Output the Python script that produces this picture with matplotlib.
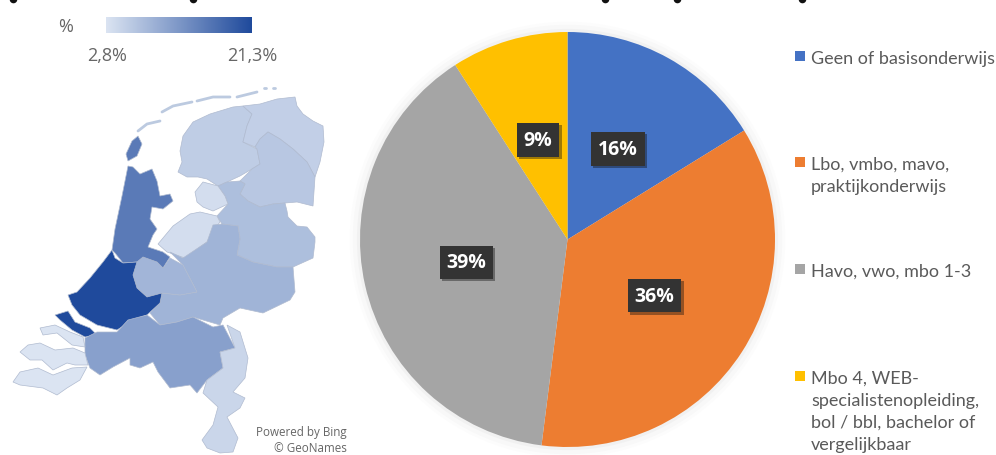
import numpy as np
import matplotlib
matplotlib.use("Agg")
import matplotlib.pyplot as plt
import matplotlib.patheffects as pe
from matplotlib.colors import LinearSegmentedColormap, Normalize
from matplotlib.patches import Polygon, Circle, Rectangle

# pie data
categories = ["Geen of basisonderwijs",
              "Lbo, vmbo, mavo,\npraktijkonderwijs",
              "Havo, vwo, mbo 1-3",
              "Mbo 4, WEB-\nspecialistenopleiding,\nbol / bbl, bachelor of\nvergelijkbaar"]
shares = [16.2, 35.8, 38.9, 9.1]
pie_colors = ["#4472c4", "#ed7d31", "#a5a5a5", "#ffc000"]
legend_y = [57, 163, 270, 377]

# map data, percentage per province
scale_min = 2.8
scale_max = 21.3
province_values = {
    "Friesland": 5.6, "Groningen": 5.3, "Drenthe": 6.3, "Overijssel": 7.3,
    "Flevoland": 3.6, "Gelderland": 8.6, "Utrecht": 8.4, "Noord-Holland": 15.5,
    "Zuid-Holland": 21.3, "Zeeland": 2.8, "Noord-Brabant": 11.0, "Limburg": 4.5,
}

# outlines in picture pixels
friesland = [(180,152),(183,137),(193,123),(210,115),(233,108),(243,107),(252,115),(247,127),(243,143),(257,150),(260,165),(252,170),(240,177),(227,183),(218,187),(207,180),(198,178),(187,178),(178,173),(182,163)]
groningen = [(243,107),(260,105),(277,100),(295,98),(297,107),(303,115),(313,122),(323,127),(324,143),(320,163),(315,178),(307,163),(293,150),(280,140),(268,133),(260,140),(255,148),(243,143),(247,127),(252,115)]
drenthe = [(268,133),(280,140),(293,150),(307,163),(315,178),(313,207),(297,203),(285,204),(273,205),(260,208),(248,202),(240,195),(245,185),(240,182),(252,170),(260,165),(257,150),(255,148),(260,140)]
overijssel = [(218,187),(227,183),(240,182),(245,185),(240,195),(248,202),(260,208),(273,205),(285,204),(287,212),(288,218),(297,227),(307,228),(315,238),(315,243),(313,259),(293,268),(277,268),(253,263),(237,256),(240,240),(238,227),(222,225),(217,217),(228,205),(225,197)]
flevo_north = [(203,183),(218,187),(225,197),(228,205),(213,212),(203,208),(197,203),(195,193)]
flevo_south = [(158,245),(173,227),(190,215),(200,213),(217,217),(220,223),(213,232),(207,243),(185,259),(167,253)]
noord_holland = [(128,167),(133,168),(140,175),(152,170),(157,182),(160,197),(170,195),(173,202),(163,210),(152,208),(150,220),(157,230),(153,236),(148,248),(163,253),(170,258),(163,269),(157,263),(143,258),(137,263),(123,264),(115,254),(112,251),(115,230),(122,197)]
texel = [(138,137),(142,145),(137,157),(128,162),(126,155),(132,142)]
zuid_holland = [(112,251),(115,259),(123,264),(137,263),(133,276),(137,289),(147,298),(162,294),(160,304),(147,316),(133,321),(117,331),(97,326),(80,316),(72,306),(68,296),(77,293),(90,279),(103,263)]
goeree = [(55,316),(68,312),(75,323),(90,329),(97,336),(85,338),(72,331),(60,321)]
utrecht = [(137,259),(145,256),(160,263),(163,269),(170,259),(183,266),(197,293),(180,296),(162,294),(147,298),(137,289),(133,276)]
gelderland = [(213,226),(222,225),(238,227),(240,240),(237,256),(253,263),(277,268),(293,268),(295,293),(290,301),(263,314),(240,309),(223,319),(220,326),(193,318),(177,323),(160,326),(150,314),(160,304),(162,294),(180,296),(197,293),(183,266),(173,256),(170,253),(183,259),(207,243)]
brabant = [(85,339),(97,333),(117,333),(128,321),(147,316),(160,326),(177,323),(193,318),(213,328),(223,326),(235,349),(220,353),(223,369),(207,381),(197,394),(190,386),(170,389),(158,373),(153,363),(140,369),(130,366),(130,359),(113,368),(100,376),(90,369),(85,356)]
limburg = [(227,326),(240,333),(248,359),(245,379),(233,393),(245,399),(240,409),(227,418),(238,439),(233,453),(220,454),(207,449),(202,441),(213,426),(218,408),(203,394),(207,381),(223,369),(220,353),(235,349)]
schouwen = [(40,329),(55,326),(70,333),(83,338),(85,348),(72,346),(57,334),(43,336)]
walcheren = [(20,353),(28,346),(40,344),(55,351),(73,349),(85,354),(88,366),(75,366),(67,364),(53,371),(42,361),(30,361)]
vlaanderen = [(13,383),(20,373),(38,369),(53,376),(72,369),(87,368),(80,381),(67,389),(57,396),(43,389),(20,386)]
wadden = [[(138,132),(147,125),(160,122)], [(162,113),(173,107),(192,103)],
          [(197,102),(213,98),(230,98)], [(237,98),(257,93)],
          [(264,89),(266,89)], [(273,89),(275,89)]]

provinces = [("Friesland", friesland), ("Groningen", groningen), ("Drenthe", drenthe),
             ("Overijssel", overijssel), ("Flevoland", flevo_north), ("Flevoland", flevo_south),
             ("Gelderland", gelderland), ("Utrecht", utrecht), ("Noord-Holland", noord_holland),
             ("Noord-Holland", texel), ("Zuid-Holland", zuid_holland), ("Zuid-Holland", goeree),
             ("Noord-Brabant", brabant), ("Limburg", limburg), ("Zeeland", schouwen),
             ("Zeeland", walcheren), ("Zeeland", vlaanderen)]

# the title is cut off in the reference and cannot be read, only these specks remain
title_specks_x = [13, 193, 605, 677, 802]

plt.rcParams["font.family"] = ["Open Sans", "DejaVu Sans"]
W, H = 996, 456
fig = plt.figure(figsize=(W / 100, H / 100), dpi=100)

# full canvas in pixels for map, texts and legend
ax = fig.add_axes([0, 0, 1, 1])
ax.set_xlim(0, W)
ax.set_ylim(H, 0)
ax.axis("off")

ax.scatter(title_specks_x, [0] * len(title_specks_x), s=30, color="#111111", marker="o", linewidths=0)

cmap = LinearSegmentedColormap.from_list("nl", ["#dbe4f2", "#1f4a9c"])
norm = Normalize(scale_min, scale_max)

for name, outline in provinces:
    ax.add_patch(Polygon(outline, closed=True, facecolor=cmap(norm(province_values[name])),
                         edgecolor="#b0bbd0", linewidth=0.5))
for island in wadden:
    xs, ys = zip(*island)
    ax.plot(xs, ys, color="#bccae0", lw=2, solid_capstyle="round")

# colour scale
cax = fig.add_axes([106 / W, 1 - 34 / H, 146 / W, 16 / H])
cax.imshow(np.linspace(scale_min, scale_max, 256).reshape(1, -1), aspect="auto", cmap=cmap, norm=norm)
cax.axis("off")
ax.text(66, 27, "%", color="#666666", fontsize=13, ha="center", va="center")
ax.text(107, 56, "2,8%", color="#666666", fontsize=13, ha="center", va="center")
ax.text(252, 56, "21,3%", color="#666666", fontsize=13, ha="center", va="center")

ax.text(347, 433, "Powered by Bing", color="#666666", fontsize=8.4, ha="right", va="center")
ax.text(347, 449, "© GeoNames", color="#666666", fontsize=8.4, ha="right", va="center")

# legend
for y, label, col in zip(legend_y, categories, pie_colors):
    ax.add_patch(Rectangle((795, y - 5), 10, 10, facecolor=col, edgecolor="none"))
    ax.text(811, y - 6, label, color="#5a5a5a", fontsize=13, family="Lato", ha="left", va="top",
            linespacing=1.45)

# pie
cx, cy, r = 567.5, 240.5, 207.5
pad = 1.02
pie_ax = fig.add_axes([(cx - r * pad) / W, 1 - (cy + r * pad) / H, 2 * r * pad / W, 2 * r * pad / H])
pie_ax.set_xlim(-pad, pad)
pie_ax.set_ylim(-pad, pad)
pie_ax.set_aspect("equal")
pie_ax.patch.set_alpha(0)
for grow, alpha in [(1.05, 0.02), (1.035, 0.03), (1.015, 0.05)]:
    pie_ax.add_patch(Circle((0, 0), grow, facecolor="#808080", alpha=alpha, edgecolor="none", clip_on=False))
wedges, _, autotexts = pie_ax.pie(shares, colors=pie_colors, startangle=90, counterclock=False,
                                  radius=1, autopct="%.0f%%", pctdistance=0.5, frame=False)
pie_ax.set_xlim(-pad, pad)
pie_ax.set_ylim(-pad, pad)
for t in autotexts:
    t.set_color("white")
    t.set_fontsize(14)
    t.set_fontweight("bold")
    t.set_bbox(dict(boxstyle="square,pad=0.35", facecolor="#333333", edgecolor="none"))
    t.get_bbox_patch().set_path_effects([pe.withSimplePatchShadow(offset=(1.5, -1.5), alpha=0.4)])

fig.savefig("out.png", dpi=100)
